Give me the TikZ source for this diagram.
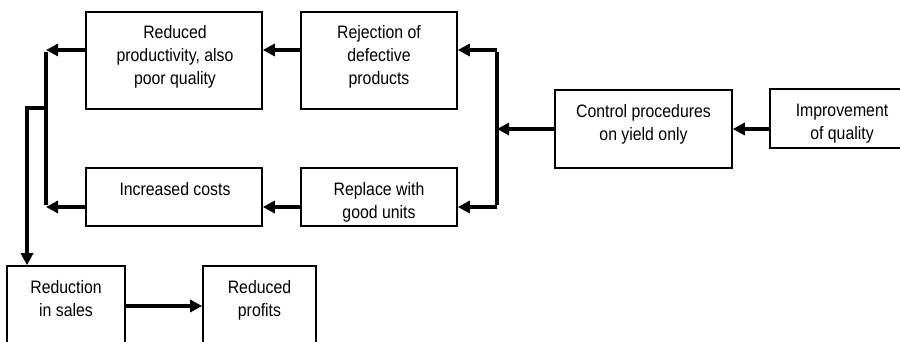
\documentclass[tikz,border=0pt]{standalone}
\usepackage{fontspec}
\setmainfont{Liberation Sans}[FakeStretch=0.88]
\usetikzlibrary{arrows.meta}
\begin{document}
\begin{tikzpicture}[x=1pt,y=-1pt,
  box/.style={draw=black,line width=1.6pt,rectangle,inner sep=0pt},
  txt/.style={align=center,anchor=north,inner sep=0pt,font=\fontsize{18}{23}\selectfont},
  conn/.style={line width=4pt,-{Triangle[length=12pt,width=12pt]}},
  wire/.style={line width=4pt}]
\useasboundingbox (0,0) rectangle (900,342);
\clip (0,0) rectangle (900,342);
% boxes
\node[box,minimum width=176,minimum height=97] (A) at (174,60.5) {};
\node[box,minimum width=156,minimum height=97] (B) at (379,60.5) {};
\node[box,minimum width=176,minimum height=58] (C) at (174,197) {};
\node[box,minimum width=156,minimum height=58] (D) at (379,197) {};
\node[box,minimum width=177,minimum height=78] (E) at (643.5,129) {};
\node[box,minimum width=144,minimum height=59] (F) at (842,118.5) {};
\node[box,minimum width=118,minimum height=100] (G) at (66,316) {};
\node[box,minimum width=113,minimum height=100] (H) at (259.5,316) {};
% texts
\node[txt] (tA) at (175,25) {Reduced\\productivity, also\\poor quality};
\node[txt] (tB) at (379,25) {Rejection of\\defective\\products};
\node[txt] (tC) at (175,182) {Increased costs};
\node[txt] (tD) at (379,182) {Replace with\\good units};
\node[txt] (tE) at (643.5,104) {Control procedures\\on yield only};
\node[txt] (tF) at (842,104) {Improvement\\of quality};
\node[txt] (tG) at (66,280) {Reduction\\in sales};
\node[txt] (tH) at (259.5,280) {Reduced\\profits};
% junction coordinates
\coordinate (LT) at (46,50);
\coordinate (LB) at (46,207);
\coordinate (LM) at (46,108);
\coordinate (LK) at (27,108);
\coordinate (RT) at (497,50);
\coordinate (RB) at (497,207);
\coordinate (RM) at (497,129);
% connectors
\draw[conn] (B.west |- LT) -- (A.east |- LT);
\draw[conn] (D.west |- LB) -- (C.east |- LB);
\draw[conn] (A.west |- LT) -- (LT);
\draw[conn] (C.west |- LB) -- (LB);
\draw[wire] ([yshift=-2pt]LT) -- ([yshift=2pt]LB);
\draw[wire] (LM) -- ([xshift=-2pt]LK);
\draw[conn] (LK) -- (LK |- G.north);
\draw[wire] ([yshift=-2pt]RT) -- ([yshift=2pt]RB);
\draw[conn] (RT) -- (B.east |- RT);
\draw[conn] (RB) -- (D.east |- RB);
\draw[conn] (E.west |- RM) -- (RM);
\draw[conn] (F.west |- RM) -- (E.east |- RM);
\draw[conn] (G.east |- 0,306) -- (H.west |- 0,306);
\end{tikzpicture}
\end{document}
